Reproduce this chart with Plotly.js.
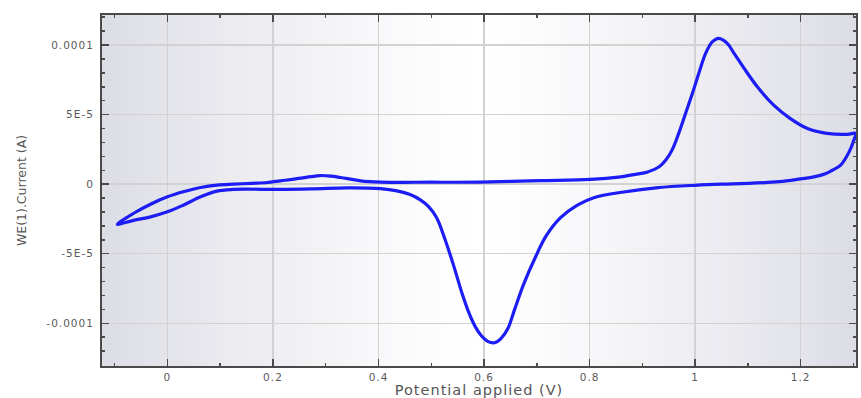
<!DOCTYPE html>
<html>
<head>
<meta charset="utf-8">
<script src="https://cdn.plot.ly/plotly-3.0.1.min.js"></script>
<style>
html,body{margin:0;padding:0;background:#fff;}
#chart{width:861px;height:398px;}
#chart .xtick text, #chart .ytick text{letter-spacing:1px;}
#chart .xtitle{letter-spacing:1px;}
</style>
</head>
<body>
<div id="chart"></div>
<script>
// Cyclic voltammogram: potential (V) and current (A), traced in scan order
const potential = [
  -0.095, -0.064, -0.032, 0.000, 0.030, 0.063, 0.094, 0.125, 0.160, 0.189, 0.214, 0.240, 0.265, 0.290, 0.310, 0.328, 0.350, 0.366, 0.404, 0.500, 0.593, 0.707, 0.802, 0.859, 0.890, 0.910, 0.932, 0.945, 0.957, 0.969, 0.982, 0.995, 1.007, 1.020, 1.033, 1.045, 1.061, 1.074, 1.093, 1.118, 1.149, 1.180, 1.213, 1.250, 1.289, 1.304,
  1.301, 1.292, 1.276, 1.260, 1.247, 1.225, 1.200, 1.160, 1.100, 1.050, 1.000, 0.930, 0.865, 0.808, 0.777, 0.745, 0.718, 0.698, 0.675, 0.658, 0.645, 0.632, 0.620, 0.607, 0.595, 0.585, 0.572, 0.558, 0.542, 0.525, 0.510, 0.495, 0.480, 0.460, 0.435, 0.404, 0.340, 0.277, 0.214, 0.150, 0.125, 0.094, 0.063, 0.030, 0.000, -0.032, -0.064, -0.095
];
const current = [
  -2.88e-5, -2.09e-5, -1.44e-5, -0.91e-5, -0.55e-5, -0.24e-5, -0.07e-5, 0.00e-5, 0.06e-5, 0.12e-5, 0.24e-5, 0.36e-5, 0.50e-5, 0.62e-5, 0.58e-5, 0.48e-5, 0.34e-5, 0.24e-5, 0.15e-5, 0.14e-5, 0.15e-5, 0.25e-5, 0.34e-5, 0.53e-5, 0.72e-5, 0.88e-5, 1.25e-5, 1.75e-5, 2.50e-5, 3.65e-5, 5.09e-5, 6.53e-5, 7.96e-5, 9.40e-5, 10.24e-5, 10.48e-5, 10.12e-5, 9.40e-5, 8.32e-5, 7.00e-5, 5.68e-5, 4.73e-5, 4.00e-5, 3.65e-5, 3.58e-5, 3.65e-5,
  3.17e-5, 2.32e-5, 1.37e-5, 1.00e-5, 0.75e-5, 0.52e-5, 0.38e-5, 0.18e-5, 0.05e-5, 0.00e-5, -0.08e-5, -0.25e-5, -0.56e-5, -0.97e-5, -1.50e-5, -2.40e-5, -3.70e-5, -5.20e-5, -7.20e-5, -9.00e-5, -10.40e-5, -11.10e-5, -11.40e-5, -11.30e-5, -10.90e-5, -10.35e-5, -9.30e-5, -7.80e-5, -5.80e-5, -3.85e-5, -2.40e-5, -1.62e-5, -1.15e-5, -0.75e-5, -0.48e-5, -0.32e-5, -0.27e-5, -0.34e-5, -0.38e-5, -0.36e-5, -0.38e-5, -0.50e-5, -0.91e-5, -1.51e-5, -1.99e-5, -2.35e-5, -2.60e-5, -2.88e-5
];
const xTickVals = [0, 0.2, 0.4, 0.6, 0.8, 1, 1.2];
const xTickText = ['0', '0.2', '0.4', '0.6', '0.8', '1', '1.2'];
const yTickVals = [1e-4, 5e-5, 0, -5e-5, -1e-4];
const yTickText = ['0.0001', '5E-5', '0', '-5E-5', '-0.0001'];

// background gradient stripes (grey edges, white centre)
const shapes = [];
const N = 90;
for (let i = 0; i < N; i++) {
  const f = (i + 0.5) / N;
  const d = Math.min(1, Math.abs(f - 0.5) / 0.5);
  const t = Math.pow(d, 1.2);
  const c = (v0, v1) => Math.round(v0 + (v1 - v0) * t);
  const col = `rgb(${c(255, 221)},${c(255, 221)},${c(255, 230)})`;
  shapes.push({type: 'rect', xref: 'x domain', yref: 'y domain', x0: i / N, x1: (i + 1) / N + 0.002, y0: 0, y1: 1,
    fillcolor: col, line: {width: 0}, layer: 'below'});
}

const trace = {
  x: potential, y: current, type: 'scatter', mode: 'lines',
  line: {color: 'rgb(28,28,245)', width: 3.2, shape: 'spline', smoothing: 1},
  hoverinfo: 'x+y'
};

const FONT = 'DejaVu Sans, Verdana, sans-serif';
const axisCommon = {
  showline: true, linecolor: '#4a4a4a', linewidth: 2, mirror: 'allticks',
  ticks: 'inside', ticklen: 7, tickwidth: 1.5, tickcolor: '#4a4a4a',
  showgrid: true, gridcolor: '#d2d2d2', gridwidth: 1.5, zeroline: false,
  tickfont: {family: FONT, size: 10.5, color: '#5a5a5a'},
  layer: 'above traces'
};

const layout = {
  width: 861, height: 398,
  margin: {l: 102, r: 5, t: 15, b: 32},
  paper_bgcolor: '#ffffff', plot_bgcolor: '#ffffff',
  showlegend: false,
  shapes: shapes,
  xaxis: Object.assign({}, axisCommon, {
    range: [-0.124, 1.305], tickvals: xTickVals, ticktext: xTickText,
    minor: {dtick: 0.1, tick0: 0, ticks: 'inside', ticklen: 3, tickcolor: '#4a4a4a', showgrid: false},
    title: {text: 'Potential applied (V)', standoff: 2, font: {family: FONT, size: 14.5, color: '#555'}}
  }),
  yaxis: Object.assign({}, axisCommon, {
    range: [-1.307e-4, 1.216e-4], tickvals: yTickVals, ticktext: yTickText,
    ticklabelstandoff: 4,
    minor: {dtick: 1e-5, tick0: 0, ticks: 'inside', ticklen: 3, tickcolor: '#4a4a4a', showgrid: false},
    title: {text: 'WE(1).Current (A)', standoff: 24, font: {family: FONT, size: 12.5, color: '#555'}}
  })
};

Plotly.newPlot('chart', [trace], layout, {displayModeBar: false, staticPlot: true});
</script>
</body>
</html>
